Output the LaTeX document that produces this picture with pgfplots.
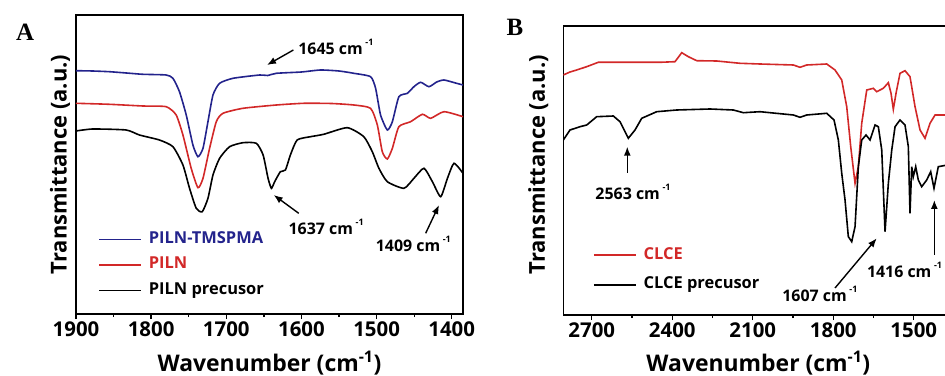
\documentclass[border=0pt]{standalone}
\usepackage{fontspec}
\setmainfont{Open Sans}
\newfontfamily\letterfont{Liberation Serif}
\usepackage{pgfplots}
\pgfplotsset{compat=1.18}
\usetikzlibrary{arrows.meta}
\definecolor{navyA}{RGB}{35,35,140}
\definecolor{redA}{RGB}{210,40,40}
\newcommand\supm[1]{\,\raisebox{0.6em}{\fontsize{9}{9}\selectfont #1}}
\tikzset{
  annot/.style={-{Latex[length=9bp,width=7bp]}, line width=1.4bp},
  atext/.style={font=\fontsize{16}{16}\selectfont\bfseries, inner sep=0pt},
}
\pgfplotsset{
 ftir/.style={
  scale only axis, x dir=reverse, ymin=0,
  axis line style={line width=1.6bp},
  ytick=\empty, xtick pos=left, tick align=outside,
  major tick length=5bp, minor tick length=3bp, minor x tick num=1,
  every tick/.style={black, line width=1.3bp},
  /pgf/number format/assume math mode=true,
  /pgf/number format/1000 sep={},
  xticklabel style={font=\fontsize{20.5}{20.5}\selectfont\bfseries, yshift=1bp},
  legend style={draw=none, fill=none, font=\fontsize{16.5}{16.5}\selectfont\bfseries,
    anchor=north west, cells={anchor=west}, inner sep=0pt,
    nodes={inner sep=0pt, text height=12bp, text depth=4bp, minimum height=16bp}, column sep=7bp},
  legend image code/.code={\draw[line width=1.6bp,#1] (0bp,0bp) -- (42bp,0bp);},
 }
}
\begin{document}
\begin{tikzpicture}
\useasboundingbox (0bp,0bp) rectangle (945bp,376bp);
\node[font=\letterfont\fontsize{25}{25}\selectfont\bfseries] at (25bp,344bp) {A};
\node[font=\letterfont\fontsize{25}{25}\selectfont\bfseries] at (515bp,349bp) {B};
\begin{axis}[ftir, at={(76bp,62bp)}, anchor=south west,
  width=387bp, height=299bp, xmin=1385, xmax=1900, ymax=299,
  xtick={1400,1500,...,1900},
  every axis x label/.style={at={(axis description cs:0.5,0)}, anchor=center, yshift=-49bp, font=\fontsize{23}{23}\selectfont\bfseries},
  every axis y label/.style={at={(axis description cs:-0.041,0.5)}, rotate=90, anchor=center, font=\fontsize{22}{22}\selectfont\bfseries},
  xlabel={Wavenumber (cm\textsuperscript{-1})}, ylabel={Transmittance (a.u.)},
  legend style={at={(0.057,0.277)}, row sep=9.5bp}]
\addplot[navyA, line width=1.6bp, smooth, tension=0.35] coordinates {(1900,243.3)(1878,243)(1855.6,242.3)(1833,241)(1811,239.7)(1780,239)(1771,235.7)(1762.3,222.3)(1753.3,199)(1744.4,169)(1737.7,157.3)(1731,165.7)(1724.4,192.3)(1717.7,219)(1708.9,230.7)(1691,235.7)(1655.6,239)(1645,238.5)(1633.3,240.7)(1600,242)(1574.7,244)(1550,243)(1530.3,240.7)(1508,237.3)(1501.3,225.7)(1494.7,199)(1485.7,184)(1479,192.3)(1470.3,217.3)(1459,220.7)(1450.3,227.3)(1441.3,231.7)(1430.3,227.3)(1420,232)(1410.3,234)(1395,231)(1385,229)};
\addlegendentry{\textcolor{navyA}{PILN-TMSPMA}}
\addplot[redA, line width=1.6bp, smooth, tension=0.35] coordinates {(1900,210.7)(1855.6,209.7)(1811,208)(1780,207.3)(1766.7,199)(1757.7,179)(1746.7,145.7)(1737.7,126.3)(1731,135.7)(1722.2,165.7)(1713.3,192.3)(1704.4,200.7)(1677.8,205.7)(1633.3,209)(1597,210.7)(1560,210.5)(1530.3,209)(1508,205.7)(1499,189)(1492.4,162.3)(1485.7,155)(1479,165.7)(1470.3,187.3)(1454.7,192.3)(1439,199.7)(1428,195.7)(1410.3,202.3)(1385,197.3)};
\addlegendentry{\textcolor{redA}{PILN}}
\addplot[black, line width=1.6bp, smooth, tension=0.35] coordinates {(1900,183)(1877.7,185)(1833.3,184)(1815.6,179)(1789,174)(1771,167.3)(1757.7,149)(1748.9,125.7)(1740,105.7)(1732,102.3)(1724.4,115.7)(1717.7,139)(1708.9,155.7)(1695.6,167.3)(1677.8,171.3)(1660,170.7)(1651,159)(1644.4,135.7)(1640,125.7)(1635.6,132.3)(1628,142.3)(1621.3,144)(1614.7,159)(1605.7,174)(1588,177.3)(1570.3,179.7)(1539,186.3)(1517,177.3)(1505.7,162.3)(1496.9,145.7)(1485.7,132.3)(1463.6,125.7)(1450.3,135.7)(1437,145.7)(1425.7,132.3)(1414.7,117.3)(1405.7,135.7)(1397,150.7)(1385,140.7)};
\addlegendentry{PILN precusor}
\draw[annot] (axis cs:1610.7,264) -- (axis cs:1645.8,249);
\node[atext, anchor=west] at (axis cs:1604.4,267) {1645 cm\supm{-1}};
\draw[annot] (axis cs:1603.6,100.7) -- (axis cs:1636.9,119);
\node[atext, anchor=west] at (axis cs:1617.3,87) {1637 cm\supm{-1}};
\draw[annot] (axis cs:1434.7,80.7) -- (axis cs:1416.9,109);
\node[atext, anchor=west] at (axis cs:1501.3,70) {1409 cm\supm{-1}};
\end{axis}
\begin{axis}[ftir, at={(563.3bp,61bp)}, anchor=south west,
  width=384bp, height=289bp, xmin=1375, xmax=2806, ymax=289,
  xtick={1500,1800,...,2700}, 
  every axis x label/.style={at={(axis description cs:0.508,0)}, anchor=center, yshift=-48bp, font=\fontsize{23}{23}\selectfont\bfseries},
  every axis y label/.style={at={(axis description cs:-0.065,0.52)}, rotate=90, anchor=center, font=\fontsize{22}{22}\selectfont\bfseries},
  xlabel={Wavenumber (cm\textsuperscript{-1})}, ylabel={Transmittance (a.u.)},
  legend style={at={(0.077,0.235)}, row sep=13.5bp}]
\addplot[redA, line width=1.6bp] coordinates {(2806,240)(2781,243)(2756,245)(2719,248.3)(2675.6,252.7)(2569.7,252.7)(2445.6,252.7)(2389.7,253.3)(2364.7,262.3)(2340,258.3)(2308.8,254.3)(2234.3,254)(2147.4,251.7)(2072.9,251)(1948.8,250)(1923.8,247.7)(1898.9,250)(1824.3,251)(1793.4,245)(1768.4,235)(1749.8,208.3)(1734.9,168.3)(1718.8,131.7)(1706.5,148.3)(1693.9,191.7)(1675.2,225)(1650.6,226.7)(1638,223.3)(1613.4,226.7)(1594.7,232.3)(1584.7,221.7)(1576.1,205.7)(1566.1,221.7)(1551.2,241.7)(1532.6,244.3)(1514,238.3)(1495.2,208.3)(1476.6,185)(1458,176.7)(1439.4,191.7)(1420.7,200)(1375,200)};
\addlegendentry{\textcolor{redA}{CLCE}}
\addplot[black, line width=1.6bp] coordinates {(2806,175)(2781,185)(2743.8,188.3)(2718.8,190)(2681.5,198.3)(2619.6,199)(2594.7,193.3)(2563.7,176.7)(2538.8,185)(2513.8,196.7)(2457.9,203.3)(2383.4,205)(2259.2,206)(2172.4,205)(2135.1,202.3)(2072.9,203.3)(1948.8,200)(1923.8,197.7)(1898.9,200)(1824.3,201.7)(1797.1,195)(1781,175)(1768.4,141.7)(1756.1,115)(1743.8,78.3)(1731.2,73.3)(1718.8,88.3)(1706.5,148.3)(1693.9,175)(1677.8,180)(1662.9,175)(1644.3,190)(1632,188.3)(1619.3,165)(1607,83.3)(1594.7,131.7)(1582,165)(1569.7,188.3)(1551.2,195)(1532.6,190)(1520.2,168.3)(1514,101.7)(1507.6,148.3)(1501.7,138.3)(1492.7,148.3)(1483,135)(1470.4,128.3)(1451.8,135)(1436.9,143.3)(1424.6,126.7)(1408.6,148.3)(1375,150)};
\addlegendentry{CLCE precusor}
\draw[annot] (axis cs:2567.5,142) -- (axis cs:2567.5,168.3);
\node[atext] at (axis cs:2546.2,123) {2563 cm\supm{-1}};
\draw[annot] (axis cs:1793.4,27) -- (axis cs:1638,76.7);
\node[atext] at (axis cs:1849.8,21) {1607 cm\supm{-1}};
\draw[annot] (axis cs:1423.3,60) -- (axis cs:1423.3,115);
\node[atext, anchor=west] at (axis cs:1675,45) {1416 cm\supm{-1}};
\end{axis}
\end{tikzpicture}
\end{document}
